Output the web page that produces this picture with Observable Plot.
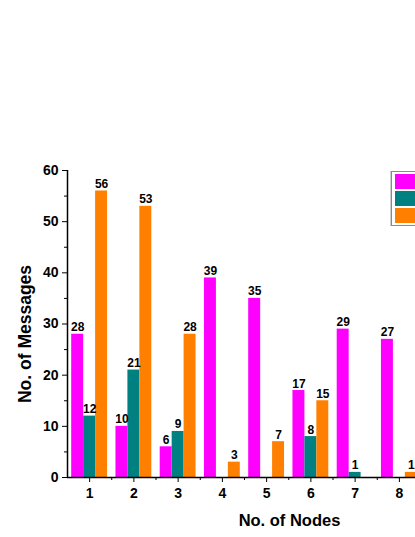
<!DOCTYPE html>
<html>
<head>
<meta charset="utf-8">
<script src="https://cdn.jsdelivr.net/npm/d3@7"></script>
<script src="https://cdn.jsdelivr.net/npm/@observablehq/plot@0.6"></script>
<style>
  html, body { margin: 0; padding: 0; overflow: hidden; background: #fff; }
  #wrap { position: relative; width: 415px; height: 537px; }
  #legend { position: absolute; left: 391px; top: 171px; width: 80px; height: 53px;
            border: 1px solid #8a8a8a; box-shadow: -1px 0 0 #cfcfcf; background: #fff; }
  .sw { position: absolute; left: 3px; width: 30px; height: 15px; }
</style>
</head>
<body>
<div id="wrap"><div id="chart"></div><div id="legend"></div></div>
<script>
const nodes = [1, 2, 3, 4, 5, 6, 7, 8];
const seriesNames = ["Series 1", "Series 2", "Series 3"];
const series1 = [28, 10, 6, 39, 35, 17, 29, 27];
const series2 = [12, 21, 9, 0, 0, 8, 1, 0];
const series3 = [56, 53, 28, 3, 7, 15, 0, 1];
const colors = ["#FF00FF", "#008080", "#FF8000"];
const yTicks = [0, 10, 20, 30, 40, 50, 60];
const yMinor = [5, 15, 25, 35, 45, 55];
const xMinor = [1.5, 2.5, 3.5, 4.5, 5.5, 6.5, 7.5];

const allSeries = [series1, series2, series3];
const rows = [];
nodes.forEach((n, i) => allSeries.forEach((s, k) => {
  if (s[i] > 0) rows.push({node: n, k, name: seriesNames[k], value: s[i]});
}));
const bw = 0.27;

const chart = Plot.plot({
  width: 415,
  height: 537,
  marginLeft: 67,
  marginRight: 0,
  marginTop: 170,
  marginBottom: 60,
  style: {fontFamily: "'Liberation Sans', Arial, sans-serif", fontWeight: "bold", fontSize: "13px", color: "#000", background: "#fff"},
  x: {domain: [0.5, 8.5], range: [67, 421]},
  y: {domain: [0, 60], range: [477, 170]},
  color: {domain: seriesNames, range: colors},
  marks: [
    Plot.rectY(rows, {
      x1: d => d.node + (d.k - 1.5) * bw,
      x2: d => d.node + (d.k - 0.5) * bw,
      y: "value",
      fill: "name"
    }),
    Plot.text(rows, {
      x: d => d.node + (d.k - 1) * bw,
      y: "value",
      text: d => String(d.value),
      lineAnchor: "bottom",
      dy: -3,
      fontSize: 12,
      fontWeight: "bold",
      fill: "#000"
    }),
    Plot.ruleY([0], {x1: 0.5, x2: 8.5, stroke: "#000", strokeWidth: 1.5}),
    Plot.ruleX([0.5], {y1: 0, y2: 60, stroke: "#000", strokeWidth: 1.5}),
    Plot.axisY(yTicks, {tickSize: 5, tickPadding: 4, label: null, fontSize: 14, fontWeight: "bold"}),
    Plot.axisY(yMinor, {tickSize: 3, text: null, label: null}),
    Plot.axisX(nodes, {tickSize: 5, tickPadding: 6, label: null, fontSize: 14, fontWeight: "bold"}),
    Plot.axisX(xMinor, {tickSize: 3, text: null, label: null}),
    Plot.text(["No. of Messages"], {frameAnchor: "left", textAnchor: "middle", lineAnchor: "middle", rotate: -90, dx: -42, dy: 10, fontSize: 17.5, fontWeight: "bold", fill: "#000"}),
    Plot.text(["No. of Nodes"], {frameAnchor: "bottom", textAnchor: "middle", lineAnchor: "middle", dx: 48, dy: 43, fontSize: 16.5, fontWeight: "bold", fill: "#000"})
  ]
});
document.getElementById("chart").appendChild(chart);

const legend = document.getElementById("legend");
seriesNames.forEach((name, k) => {
  const sw = document.createElement("div");
  sw.className = "sw";
  sw.style.top = (2 + k * 17) + "px";
  sw.style.background = colors[k];
  sw.setAttribute("aria-label", name);
  legend.appendChild(sw);
});
</script>
</body>
</html>
